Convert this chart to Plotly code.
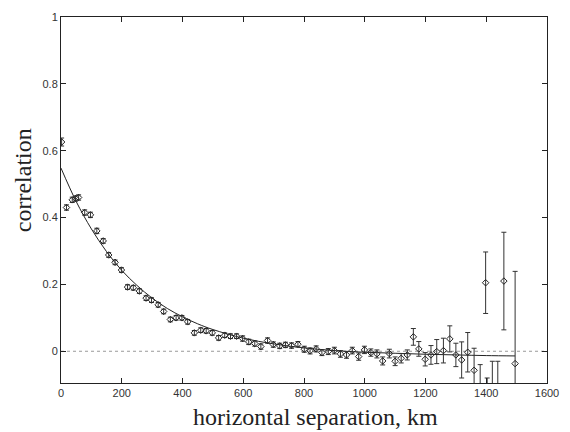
import plotly.graph_objects as go

# Binned correlation versus horizontal separation
sep_km = [2, 18, 37, 48, 58, 78, 97, 118, 139, 157, 178, 199, 219, 238, 258, 280,
          298, 320, 338, 360, 379, 398, 417, 439, 460, 478, 498, 519, 539, 558, 578,
          598, 618, 638, 658, 680, 699, 720, 739, 759, 780, 801, 820, 840, 859, 880,
          900, 920, 940, 959, 980, 999, 1020, 1040, 1059, 1081, 1100, 1120, 1140,
          1160, 1178, 1199, 1218, 1237, 1259, 1280, 1300, 1319, 1339, 1360, 1380,
          1398, 1403, 1420, 1438, 1458, 1495]
corr = [0.626, 0.430, 0.453, 0.457, 0.460, 0.415, 0.408, 0.360, 0.330, 0.288, 0.266,
        0.243, 0.192, 0.190, 0.180, 0.159, 0.153, 0.139, 0.119, 0.095, 0.100, 0.100,
        0.088, 0.055, 0.063, 0.061, 0.055, 0.040, 0.048, 0.045, 0.045, 0.038, 0.028,
        0.023, 0.014, 0.032, 0.020, 0.016, 0.019, 0.017, 0.021, 0.006, 0.001, 0.007,
        -0.004, -0.001, 0.002, -0.008, -0.011, 0.002, -0.016, 0.004, -0.004, -0.008,
        -0.029, -0.007, -0.030, -0.021, -0.011, 0.043, 0.007, -0.024, -0.011, -0.001,
        0.002, 0.037, -0.011, -0.026, -0.003, -0.057, -0.130, 0.205, -0.170, -0.150,
        -0.150, 0.210, -0.037]
corr_err = [0.012, 0.008, 0.008, 0.008, 0.008, 0.008, 0.008, 0.008, 0.007, 0.007, 0.007,
            0.007, 0.007, 0.007, 0.007, 0.007, 0.007, 0.007, 0.007, 0.007, 0.007, 0.007,
            0.007, 0.007, 0.007, 0.007, 0.007, 0.007, 0.007, 0.007, 0.007, 0.008, 0.008,
            0.008, 0.008, 0.008, 0.008, 0.008, 0.008, 0.008, 0.008, 0.009, 0.009, 0.009,
            0.009, 0.009, 0.010, 0.010, 0.010, 0.010, 0.011, 0.011, 0.011, 0.012, 0.012,
            0.013, 0.013, 0.014, 0.015, 0.025, 0.022, 0.020, 0.028, 0.036, 0.037, 0.039,
            0.035, 0.054, 0.059, 0.066, 0.090, 0.092, 0.090, 0.120, 0.120, 0.146, 0.276]

# Fitted correlation curve
fit_km = [0, 50, 100, 150, 200, 250, 300, 350, 400, 450, 500, 600, 700, 800, 900,
          1000, 1100, 1200, 1300, 1400, 1495]
fit_corr = [0.548, 0.448, 0.366, 0.298, 0.242, 0.197, 0.159, 0.128, 0.103, 0.082,
            0.065, 0.039, 0.022, 0.010, 0.002, -0.003, -0.006, -0.009, -0.011, -0.013,
            -0.014]

x_ticks = [0, 200, 400, 600, 800, 1000, 1200, 1400, 1600]
y_ticks = [0, 0.2, 0.4, 0.6, 0.8, 1]
y_tick_text = ["0", "0.2", "0.4", "0.6", "0.8", "1"]

fig = go.Figure()

fig.add_trace(go.Scatter(
    x=fit_km, y=fit_corr, mode="lines",
    line=dict(color="#222222", width=1, shape="spline"),
    hoverinfo="skip", showlegend=False,
))

fig.add_trace(go.Scatter(
    x=sep_km, y=corr, mode="markers",
    marker=dict(symbol="diamond-open", size=5, color="#222222", line=dict(width=1)),
    error_y=dict(type="data", array=corr_err, visible=True,
                 color="#333333", thickness=1, width=2.5),
    showlegend=False,
))

# Zero reference line
fig.add_shape(type="line", xref="paper", yref="y", x0=0, x1=1, y0=0, y1=0,
              line=dict(color="#999999", width=1, dash="dot"), layer="below")

tick_font = dict(family="Liberation Sans, Arial, sans-serif", size=11, color="#333333")
title_font = dict(family="Liberation Serif, Times New Roman, serif", size=24, color="#222222")

fig.update_xaxes(
    range=[0, 1600], tickvals=x_ticks, ticks="inside", ticklen=5, tickcolor="#222222",
    showline=True, linecolor="#222222", linewidth=1, mirror="ticks",
    showgrid=False, zeroline=False, tickfont=tick_font,
)
fig.update_yaxes(
    range=[-0.095, 1.0], tickvals=y_ticks, ticktext=y_tick_text, ticks="inside",
    ticklen=5, tickcolor="#222222",
    showline=True, linecolor="#222222", linewidth=1, mirror="ticks",
    showgrid=False, zeroline=False, tickfont=tick_font,
)

fig.add_annotation(text="horizontal separation, km", xref="paper", yref="paper",
                   x=0.5245, y=-0.094, xanchor="center", yanchor="middle",
                   showarrow=False, font=title_font)
fig.add_annotation(text="correlation", xref="paper", yref="paper",
                   x=-0.079, y=0.553, xanchor="center", yanchor="middle",
                   textangle=-90, showarrow=False, font=title_font)

fig.update_layout(
    width=570, height=432,
    margin=dict(l=61, r=17, t=11, b=49),
    paper_bgcolor="white", plot_bgcolor="white",
)

fig.write_html("out.html")
